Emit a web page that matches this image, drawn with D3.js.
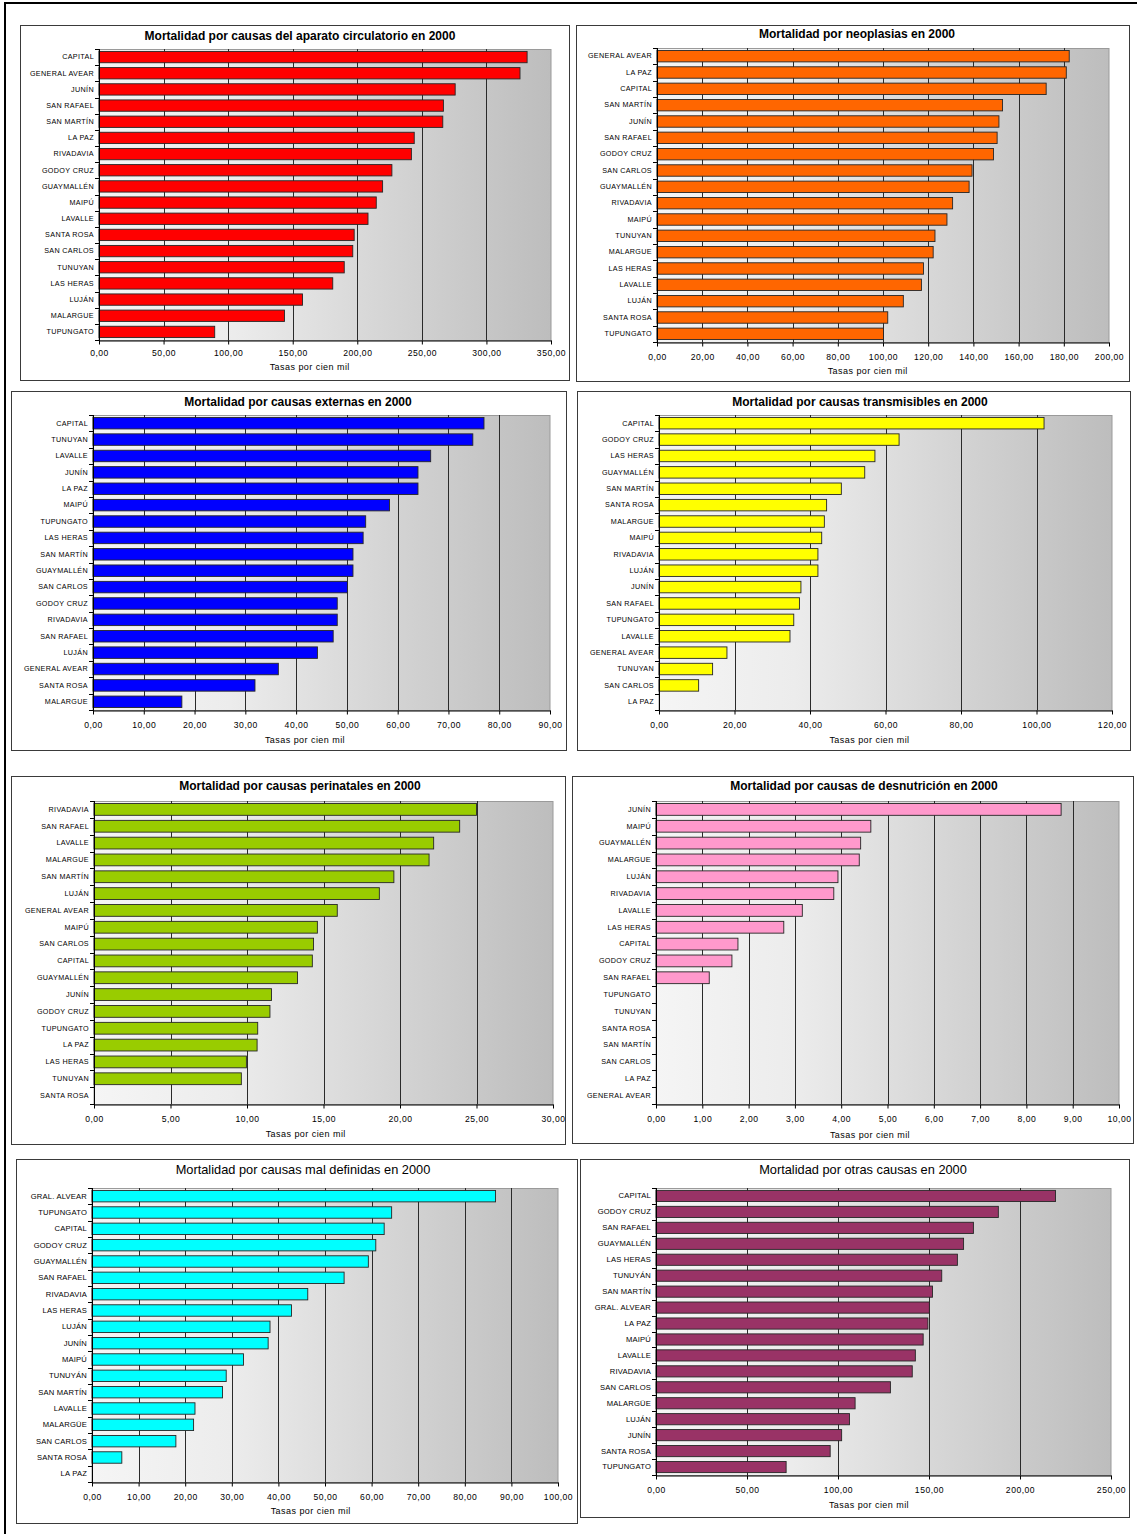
<!DOCTYPE html>
<html>
<head>
<meta charset="utf-8">
<script src="https://cdn.jsdelivr.net/npm/d3@7"></script>
<style>
  html, body { margin: 0; padding: 0; background: #fff; }
  svg { display: block; font-family: "Liberation Sans", Arial, sans-serif; }
</style>
</head>
<body>
<script>
// ---- Data: mortality rates per 100,000 inhabitants, Mendoza departments, year 2000 ----

const circCategories = ["CAPITAL", "GENERAL AVEAR", "JUNÍN", "SAN RAFAEL", "SAN MARTÍN", "LA PAZ", "RIVADAVIA", "GODOY CRUZ", "GUAYMALLÉN", "MAIPÚ", "LAVALLE", "SANTA ROSA", "SAN CARLOS", "TUNUYAN", "LAS HERAS", "LUJÁN", "MALARGUE", "TUPUNGATO"];
const circValues = [331.5, 326.0, 275.8, 266.7, 266.2, 244.1, 241.9, 226.8, 219.6, 214.7, 208.3, 197.6, 196.5, 189.9, 181.0, 157.6, 143.6, 89.6];
const circTicks = [0, 50, 100, 150, 200, 250, 300, 350];

const neoCategories = ["GENERAL AVEAR", "LA PAZ", "CAPITAL", "SAN MARTÍN", "JUNÍN", "SAN RAFAEL", "GODOY CRUZ", "SAN CARLOS", "GUAYMALLÉN", "RIVADAVIA", "MAIPÚ", "TUNUYAN", "MALARGUE", "LAS HERAS", "LAVALLE", "LUJÁN", "SANTA ROSA", "TUPUNGATO"];
const neoValues = [182.4, 181.1, 172.2, 152.9, 151.3, 150.5, 148.9, 139.4, 138.1, 130.8, 128.3, 123.0, 122.2, 117.9, 117.0, 109.0, 102.1, 100.2];
const neoTicks = [0, 20, 40, 60, 80, 100, 120, 140, 160, 180, 200];

const extCategories = ["CAPITAL", "TUNUYAN", "LAVALLE", "JUNÍN", "LA PAZ", "MAIPÚ", "TUPUNGATO", "LAS HERAS", "SAN MARTÍN", "GUAYMALLÉN", "SAN CARLOS", "GODOY CRUZ", "RIVADAVIA", "SAN RAFAEL", "LUJÁN", "GENERAL AVEAR", "SANTA ROSA", "MALARGUE"];
const extValues = [77.0, 74.8, 66.5, 64.0, 64.0, 58.4, 53.7, 53.2, 51.2, 51.2, 50.1, 48.1, 48.1, 47.3, 44.2, 36.5, 31.9, 17.5];
const extTicks = [0, 10, 20, 30, 40, 50, 60, 70, 80, 90];

const transCategories = ["CAPITAL", "GODOY CRUZ", "LAS HERAS", "GUAYMALLÉN", "SAN MARTÍN", "SANTA ROSA", "MALARGUE", "MAIPÚ", "RIVADAVIA", "LUJÁN", "JUNÍN", "SAN RAFAEL", "TUPUNGATO", "LAVALLE", "GENERAL AVEAR", "TUNUYAN", "SAN CARLOS", "LA PAZ"];
const transValues = [102.0, 63.6, 57.2, 54.5, 48.3, 44.4, 43.8, 43.1, 42.1, 42.1, 37.6, 37.2, 35.7, 34.7, 18.0, 14.2, 10.5, 0];
const transTicks = [0, 20, 40, 60, 80, 100, 120];

const periCategories = ["RIVADAVIA", "SAN RAFAEL", "LAVALLE", "MALARGUE", "SAN MARTÍN", "LUJÁN", "GENERAL AVEAR", "MAIPÚ", "SAN CARLOS", "CAPITAL", "GUAYMALLÉN", "JUNÍN", "GODOY CRUZ", "TUPUNGATO", "LA PAZ", "LAS HERAS", "TUNUYAN", "SANTA ROSA"];
const periValues = [25.0, 23.9, 22.2, 21.9, 19.6, 18.65, 15.9, 14.6, 14.35, 14.27, 13.3, 11.6, 11.5, 10.7, 10.66, 9.96, 9.63, 0];
const periTicks = [0, 5, 10, 15, 20, 25, 30];

const desnCategories = ["JUNÍN", "MAIPÚ", "GUAYMALLÉN", "MALARGUE", "LUJÁN", "RIVADAVIA", "LAVALLE", "LAS HERAS", "CAPITAL", "GODOY CRUZ", "SAN RAFAEL", "TUPUNGATO", "TUNUYAN", "SANTA ROSA", "SAN MARTÍN", "SAN CARLOS", "LA PAZ", "GENERAL AVEAR"];
const desnValues = [8.75, 4.64, 4.42, 4.39, 3.93, 3.84, 3.16, 2.76, 1.77, 1.64, 1.15, 0, 0, 0, 0, 0, 0, 0];
const desnTicks = [0, 1, 2, 3, 4, 5, 6, 7, 8, 9, 10];

const malCategories = ["GRAL. ALVEAR", "TUPUNGATO", "CAPITAL", "GODOY CRUZ", "GUAYMALLÉN", "SAN RAFAEL", "RIVADAVIA", "LAS HERAS", "LUJÁN", "JUNÍN", "MAIPÚ", "TUNUYÁN", "SAN MARTÍN", "LAVALLE", "MALARGÜE", "SAN CARLOS", "SANTA ROSA", "LA PAZ"];
const malValues = [86.6, 64.3, 62.7, 60.9, 59.3, 54.1, 46.3, 42.8, 38.2, 37.8, 32.5, 28.8, 28.0, 22.1, 21.8, 18.0, 6.4, 0];
const malTicks = [0, 10, 20, 30, 40, 50, 60, 70, 80, 90, 100];

const otrasCategories = ["CAPITAL", "GODOY CRUZ", "SAN RAFAEL", "GUAYMALLÉN", "LAS HERAS", "TUNUYÁN", "SAN MARTÍN", "GRAL. ALVEAR", "LA PAZ", "MAIPÚ", "LAVALLE", "RIVADAVIA", "SAN CARLOS", "MALARGÜE", "LUJÁN", "JUNÍN", "SANTA ROSA", "TUPUNGATO"];
const otrasValues = [219.5, 188.1, 174.4, 169.0, 165.6, 157.0, 151.9, 150.2, 149.4, 146.8, 142.5, 140.8, 128.8, 109.4, 106.3, 102.0, 95.7, 71.5];
const otrasTicks = [0, 50, 100, 150, 200, 250];

const titles = [
  "Mortalidad por causas del aparato circulatorio en 2000",
  "Mortalidad por neoplasias en 2000",
  "Mortalidad por causas externas en 2000",
  "Mortalidad por causas transmisibles en 2000",
  "Mortalidad por causas perinatales en 2000",
  "Mortalidad por causas de desnutrición en 2000",
  "Mortalidad por causas mal definidas en 2000",
  "Mortalidad por otras causas en 2000"
];
const axisTitle = "Tasas por cien mil";

// ---- Layout of the eight chart boxes ----
const layout = [
  { frame: [20, 25, 569, 380],   plot: [99, 49, 551, 340],    titleX: 300, titleY: 37,   tickPad: 5,  axisTitleY: 368,  bold: true },
  { frame: [576, 25, 1129, 381], plot: [657, 48, 1109, 342],  titleX: 857, titleY: 35,   tickPad: 7,  axisTitleY: 372,  bold: true },
  { frame: [11, 391, 566, 750],  plot: [93, 415, 550, 710],   titleX: 298, titleY: 403,  tickPad: 7,  axisTitleY: 741,  bold: true },
  { frame: [577, 391, 1130, 750],plot: [659, 415, 1112, 710], titleX: 860, titleY: 403,  tickPad: 7,  axisTitleY: 741,  bold: true },
  { frame: [11, 776, 565, 1144], plot: [94, 801, 553, 1104],  titleX: 300, titleY: 787,  tickPad: 7,  axisTitleY: 1135, bold: true },
  { frame: [572, 776, 1133, 1143],plot: [656, 801, 1119, 1104],titleX: 864, titleY: 787, tickPad: 7,  axisTitleY: 1136, bold: true },
  { frame: [16, 1159, 577, 1523],plot: [92, 1188, 558, 1482], titleX: 303, titleY: 1171, tickPad: 7,  axisTitleY: 1512, bold: false },
  { frame: [580, 1159, 1129, 1517],plot: [656, 1188, 1111, 1475],titleX: 863, titleY: 1171,tickPad: 7, axisTitleY: 1506, bold: false }
];

const series = [
  { categories: circCategories,  values: circValues,  ticks: circTicks,  color: "#ff0000" },
  { categories: neoCategories,   values: neoValues,   ticks: neoTicks,   color: "#ff6600" },
  { categories: extCategories,   values: extValues,   ticks: extTicks,   color: "#0000ff" },
  { categories: transCategories, values: transValues, ticks: transTicks, color: "#ffff00" },
  { categories: periCategories,  values: periValues,  ticks: periTicks,  color: "#99cc00" },
  { categories: desnCategories,  values: desnValues,  ticks: desnTicks,  color: "#ff99cc" },
  { categories: malCategories,   values: malValues,   ticks: malTicks,   color: "#00ffff" },
  { categories: otrasCategories, values: otrasValues, ticks: otrasTicks, color: "#993366" }
];

const W = 1137, H = 1534;
const locale = d3.formatLocale({ decimal: ",", thousands: ".", grouping: [3], currency: ["", ""] });
const fmt = locale.format(".2f");

const svg = d3.select("body").append("svg").attr("width", W).attr("height", H);
svg.append("rect").attr("width", W).attr("height", H).attr("fill", "#fff");

// Plot-area fill: light on the left fading to grey on the right
const defs = svg.append("defs");
const grad = defs.append("linearGradient").attr("id", "plotFill")
  .attr("x1", "0%").attr("x2", "100%").attr("y1", "0%").attr("y2", "0%");
[[0, "#f5f5f5"], [0.3, "#ececec"], [0.65, "#d4d4d4"], [1, "#bdbdbd"]].forEach(([o, c]) =>
  grad.append("stop").attr("offset", o).attr("stop-color", c));

// Page border on the left and top
svg.append("line").attr("x1", 5).attr("x2", 5).attr("y1", 2).attr("y2", H)
  .attr("stroke", "#000").attr("stroke-width", 2);
svg.append("line").attr("x1", 4).attr("x2", W).attr("y1", 3).attr("y2", 3)
  .attr("stroke", "#000").attr("stroke-width", 2);

series.forEach((s, i) => {
  const L = layout[i];
  const [fx0, fy0, fx1, fy1] = L.frame;
  const [px0, py0, px1, py1] = L.plot;
  const g = svg.append("g");

  g.append("rect")
    .attr("x", fx0 + 0.5).attr("y", fy0 + 0.5)
    .attr("width", fx1 - fx0).attr("height", fy1 - fy0)
    .attr("fill", "#fff").attr("stroke", "#3a3a3a").attr("stroke-width", 1);

  const xMax = d3.max(s.ticks);
  const x = d3.scaleLinear().domain([0, xMax]).range([px0, px1]);
  const y = d3.scaleBand().domain(s.categories).range([py0, py1])
    .paddingInner(0.3).paddingOuter(0.15);

  // plot area
  g.append("rect")
    .attr("x", px0).attr("y", py0 + 0.5)
    .attr("width", px1 - px0).attr("height", py1 - py0)
    .attr("fill", "url(#plotFill)").attr("stroke", "#9a9a9a").attr("stroke-width", 1);

  // vertical gridlines
  g.append("g").selectAll("line")
    .data(s.ticks.filter(t => t > 0 && t < xMax))
    .join("line")
    .attr("x1", d => Math.round(x(d)) + 0.5).attr("x2", d => Math.round(x(d)) + 0.5)
    .attr("y1", py0).attr("y2", py1)
    .attr("stroke", "#2a2a2a").attr("stroke-width", 1);

  // bars
  const rows = s.categories.map((c, k) => ({ c, v: s.values[k] }));
  g.append("g").selectAll("rect")
    .data(rows.filter(d => d.v > 0))
    .join("rect")
    .attr("x", x(0)).attr("y", d => y(d.c))
    .attr("width", d => x(d.v) - x(0))
    .attr("height", y.bandwidth())
    .attr("fill", s.color)
    .attr("stroke", "#262626").attr("stroke-width", 0.9);

  // category axis
  const yAxis = d3.axisLeft(y).tickSize(0).tickPadding(5);
  const ya = g.append("g").attr("transform", `translate(${px0},0)`).call(yAxis);
  ya.select(".domain").remove();
  ya.selectAll("text")
    .attr("font-size", i >= 6 ? 7.6 : 7.2)
    .attr("font-family", "'Liberation Sans', Arial, sans-serif")
    .attr("letter-spacing", i >= 6 ? 0.2 : 0.35)
    .attr("fill", "#000");

  // category separators (small outward ticks between bands)
  const step = y.step();
  const edges = d3.range(s.categories.length + 1).map(k => y.range()[0] + k * step);
  g.append("g").selectAll("line").data(edges).join("line")
    .attr("x1", px0 - 4).attr("x2", px0)
    .attr("y1", d => Math.round(d) + 0.5).attr("y2", d => Math.round(d) + 0.5)
    .attr("stroke", "#000");
  g.append("line")
    .attr("x1", px0 + 0.5).attr("x2", px0 + 0.5).attr("y1", py0).attr("y2", py1 + 1)
    .attr("stroke", "#000");

  // value axis
  const xAxis = d3.axisBottom(x).tickValues(s.ticks).tickSize(4).tickSizeOuter(0)
    .tickPadding(L.tickPad).tickFormat(fmt);
  const xa = g.append("g").attr("transform", `translate(0,${py1 + 0.5})`).call(xAxis);
  xa.select(".domain").attr("stroke", "#000");
  xa.selectAll(".tick line").attr("stroke", "#000");
  xa.selectAll("text")
    .attr("font-size", 8.6)
    .attr("letter-spacing", 0.5)
    .attr("font-family", "'Liberation Sans', Arial, sans-serif")
    .attr("fill", "#000");

  // titles
  g.append("text")
    .attr("x", L.titleX).attr("y", L.titleY)
    .attr("text-anchor", "middle").attr("dominant-baseline", "middle")
    .attr("font-size", L.bold ? 12 : 12.8)
    .attr("font-weight", L.bold ? "bold" : "normal")
    .attr("fill", "#000")
    .text(titles[i]);

  g.append("text")
    .attr("x", ((fx0 + fx1) / 2 + (px0 + px1) / 2) / 2).attr("y", L.axisTitleY)
    .attr("text-anchor", "middle").attr("dominant-baseline", "middle")
    .attr("font-size", 9).attr("letter-spacing", 0.45)
    .attr("fill", "#000")
    .text(axisTitle);
});
</script>
</body>
</html>
